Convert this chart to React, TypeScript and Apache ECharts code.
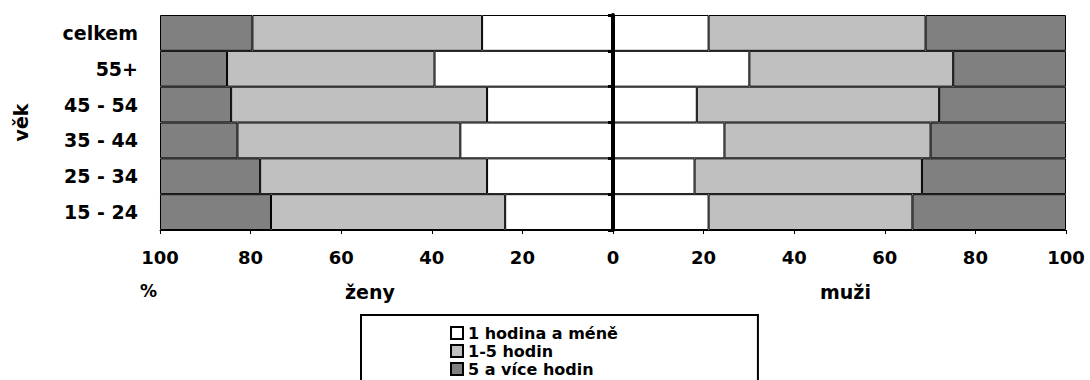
import React, { useEffect, useRef } from "react";
import * as echarts from "echarts";

const categories = ["celkem", "55+", "45 - 54", "35 - 44", "25 - 34", "15 - 24"];
const seriesNames = ["1 hodina a méně", "1-5 hodin", "5 a více hodin"];
const colors = ["#FFFFFF", "#C0C0C0", "#808080"];

// ženy (women), top to bottom
const womenLow = [28.9, 39.4, 27.8, 33.7, 27.8, 23.8];
const womenMid = [50.7, 45.8, 56.5, 49.2, 50.1, 51.7];
const womenHigh = [20.4, 14.8, 15.7, 17.1, 22.1, 24.5];
// muži (men), top to bottom
const menLow = [21.1, 30.1, 18.5, 24.6, 18.0, 21.1];
const menMid = [47.9, 45.0, 53.5, 45.5, 50.2, 45.0];
const menHigh = [31.0, 24.9, 28.0, 29.9, 31.8, 33.9];

const FONT = "DejaVu Sans";

export default function App() {
  const ref = useRef<HTMLDivElement>(null);

  useEffect(() => {
    if (!ref.current) return;
    const chart = echarts.init(ref.current, null, { renderer: "svg" });

    const mk = (name: string, color: string, data: number[], stack: string, neg: boolean) => ({
      name,
      type: "bar",
      stack,
      data: data.map((v) => (neg ? -v : v)),
      barCategoryGap: "0%",
      barGap: "-100%",
      itemStyle: { color, borderColor: "#000", borderWidth: 1 },
      emphasis: { disabled: true },
    });

    const women = [womenLow, womenMid, womenHigh];
    const men = [menLow, menMid, menHigh];
    const series: any[] = [];
    for (let i = 0; i < 3; i++) series.push(mk(seriesNames[i], colors[i], women[i], "women", true));
    for (let i = 0; i < 3; i++) series.push(mk(seriesNames[i], colors[i], men[i], "men", false));

    chart.setOption({
      animation: false,
      grid: { left: 160, right: 24, top: 15, bottom: 150, show: false },
      xAxis: {
        type: "value",
        min: -100,
        max: 100,
        interval: 20,
        splitLine: { show: false },
        axisLine: { show: true, onZero: false, lineStyle: { color: "#000", width: 1 } },
        axisTick: { show: true, length: 4, lineStyle: { color: "#000", width: 1 } },
        axisLabel: {
          formatter: (v: number) => String(Math.abs(v)),
          fontFamily: FONT,
          fontWeight: "bold",
          fontSize: 18,
          color: "#000",
          margin: 18,
        },
      },
      yAxis: [
        {
          type: "category",
          data: categories,
          inverse: true,
          axisLine: { show: false, onZero: false },
          axisTick: { show: false },
          axisLabel: {
            fontFamily: FONT,
            fontWeight: "bold",
            fontSize: 19,
            color: "#000",
            margin: 22,
          },
          name: "věk",
          nameLocation: "middle",
          nameRotate: 90,
          nameGap: 130,
          nameTextStyle: { fontFamily: FONT, fontWeight: "bold", fontSize: 19, color: "#000" },
        },
        {
          type: "category",
          data: categories,
          inverse: true,
          position: "left",
          axisLine: { show: true, onZero: true, lineStyle: { color: "#000", width: 4 } },
          axisTick: { show: true, length: 5, lineStyle: { color: "#000", width: 3 } },
          axisLabel: { show: false },
          splitLine: { show: false },
          z: 10,
        },
      ],
      legend: {
        orient: "vertical",
        left: 361,
        top: 315,
        width: 395,
        height: 120,
        icon: "rect",
        itemWidth: 12,
        itemHeight: 12,
        itemGap: 0,
        itemTextGap: 4,
        padding: [9, 140, 30, 89],
        borderColor: "#000",
        borderWidth: 2,
        selectedMode: false,
        data: seriesNames,
        textStyle: { fontFamily: FONT, fontWeight: "bold", fontSize: 16, lineHeight: 18, color: "#000" },
      },
      graphic: [
        { type: "text", left: 140, top: 282, style: { text: "%", font: `bold 17px "${FONT}"`, fill: "#000" } },
        { type: "text", left: 345, top: 282, style: { text: "ženy", font: `bold 19px "${FONT}"`, fill: "#000" } },
        { type: "text", left: 820, top: 282, style: { text: "muži", font: `bold 19px "${FONT}"`, fill: "#000" } },
      ],
      series,
    });

    return () => chart.dispose();
  }, []);

  return (
    <div
      ref={ref}
      style={{ position: "absolute", left: 0, top: 0, width: 1090, height: 380, background: "#fff" }}
    />
  );
}
